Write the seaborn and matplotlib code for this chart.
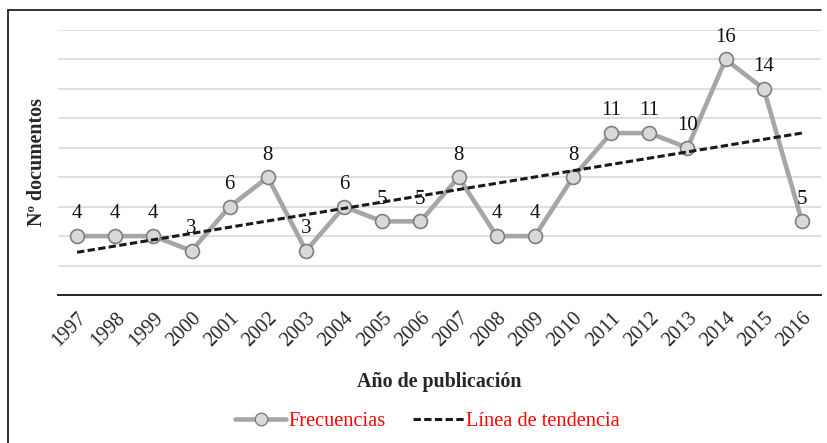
import seaborn as sns
import matplotlib.pyplot as plt
from matplotlib.lines import Line2D
import pandas as pd

years = list(range(1997, 2017))
docs = [4, 4, 4, 3, 6, 8, 3, 6, 5, 5, 8, 4, 4, 8, 11, 11, 10, 16, 14, 5]

df = pd.DataFrame({"year": years, "docs": docs})

sns.set_theme(style="white")
plt.rcParams["font.family"] = ["Liberation Serif", "DejaVu Serif"]

fig = plt.figure(figsize=(8.27, 4.43), dpi=100)
ax = fig.add_axes([58 / 827, 1 - 295 / 443, (821 - 58) / 827, (295 - 30) / 443])

dash = (0, (2.4, 1.1))

# gridlines
for yv in range(2, 19, 2):
    ax.axhline(yv, color="#D9D9D9", lw=1.2, zorder=0)

sns.lineplot(data=df, x="year", y="docs", ax=ax, color="#A6A6A6", lw=3.3,
             marker="o", markersize=10, markerfacecolor="#D9D9D9",
             markeredgecolor="#7F7F7F", markeredgewidth=1.2, zorder=3)

sns.regplot(data=df, x="year", y="docs", ax=ax, scatter=False, ci=None,
            line_kws=dict(color="#1A1A1A", lw=2.2, ls=dash, zorder=4))

for x, y in zip(years, docs):
    ax.annotate(str(y), (x, y), xytext=(0, 16), textcoords="offset points",
                ha="center", va="center", fontsize=15, color="#111111", zorder=5)

ax.set_xlim(1996.5, 2016.5)
ax.set_ylim(0, 18)
ax.set_xticks(years)
ax.set_xticklabels([str(y) for y in years], rotation=45, ha="right",
                   rotation_mode="anchor", fontsize=14.5)
ax.set_yticks([])
ax.tick_params(axis="x", length=0, pad=10)
for s in ["top", "right", "left"]:
    ax.spines[s].set_visible(False)
ax.spines["bottom"].set_color("#222222")
ax.spines["bottom"].set_linewidth(1.4)

ax.set_xlabel("Año de publicación", fontsize=14.4, fontweight="bold", labelpad=15)
ax.set_ylabel("Nº documentos", fontsize=14.4, fontweight="bold", labelpad=8)

handles = [
    Line2D([], [], color="#A6A6A6", lw=3.3, marker="o", markersize=9,
           markerfacecolor="#D9D9D9", markeredgecolor="#7F7F7F"),
    Line2D([], [], color="#1A1A1A", lw=2.2, ls=dash),
]
leg = fig.legend(handles, ["Frecuencias", "Línea de tendencia"], loc="center",
                 bbox_to_anchor=(0.517, 1 - 421 / 443), ncol=2, frameon=False,
                 fontsize=14.7, handlelength=2.5, handletextpad=0.1,
                 columnspacing=1.35)
for t in leg.get_texts():
    t.set_color("#FF0000")

# outer frame (top and left edges visible)
fig.add_artist(Line2D([8 / 827, 8 / 827], [0, 1 - 10 / 443], color="#111111",
                      lw=1.2, transform=fig.transFigure))
fig.add_artist(Line2D([8 / 827, 821 / 827], [1 - 10 / 443, 1 - 10 / 443],
                      color="#111111", lw=1.2, transform=fig.transFigure))

fig.savefig("out.png", dpi=100)
